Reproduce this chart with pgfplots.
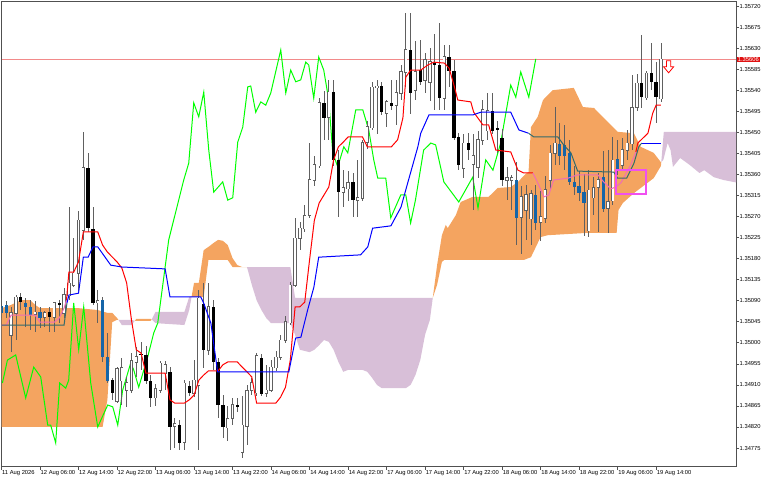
\documentclass[border=0pt]{standalone}
\usepackage{pgfplots}
\pgfplotsset{compat=1.18}
\usepackage{pgfplotstable}
\usepackage{fontspec}
\setmainfont{Liberation Sans}
\definecolor{cloudA}{HTML}{F4A460}
\definecolor{cloudB}{HTML}{D8BFD8}
\definecolor{tenkanpink}{HTML}{F06EB4}
\definecolor{kijunteal}{HTML}{336B6B}
\definecolor{bearblue}{HTML}{1565A8}
\definecolor{framec}{HTML}{505050}
\definecolor{bidline}{HTML}{F28A8A}
\definecolor{bidbox}{HTML}{E01010}
\definecolor{boxmag}{HTML}{F050F0}
\definecolor{chikou}{HTML}{00FF00}
\definecolor{wickc}{HTML}{606060}
\pgfdeclareplotmark{dnarrow}{%
 \pgfpathmoveto{\pgfpoint{-2.2bp}{6bp}}\pgfpathlineto{\pgfpoint{2.2bp}{6bp}}%
 \pgfpathlineto{\pgfpoint{2.2bp}{0bp}}\pgfpathlineto{\pgfpoint{5bp}{0bp}}%
 \pgfpathlineto{\pgfpoint{0bp}{-6bp}}\pgfpathlineto{\pgfpoint{-5bp}{0bp}}%
 \pgfpathlineto{\pgfpoint{-2.2bp}{0bp}}\pgfpathclose\pgfusepathqfillstroke}
\pgfplotsset{candle/.style={only marks, mark=*, mark size=0.1pt, mark options={draw opacity=0, fill opacity=0}, forget plot}}
\pgfplotstableread{
x o h l c t
0 1.35081 1.35096 1.35053 1.35066 2
1 1.35081 1.35089 1.35053 1.35064 2
2 1.35017 1.35077 1.34980 1.35064 0
3 1.35064 1.35102 1.35006 1.35098 0
4 1.35098 1.35106 1.35070 1.35087 1
5 1.35087 1.35096 1.35034 1.35077 2
6 1.35077 1.35091 1.35027 1.35059 2
7 1.35062 1.35091 1.35023 1.35066 0
8 1.35066 1.35077 1.35034 1.35053 2
9 1.35055 1.35070 1.35034 1.35064 0
10 1.35066 1.35077 1.35023 1.35055 1
11 1.35055 1.35087 1.35023 1.35085 0
12 1.35085 1.35091 1.35042 1.35081 1
13 1.35064 1.35119 1.35055 1.35102 0
14 1.35102 1.35290 1.35091 1.35128 0
15 1.35124 1.35224 1.35119 1.35149 0
16 1.35149 1.35284 1.35113 1.35262 0
17 1.35241 1.35451 1.35220 1.35374 0
18 1.35374 1.35406 1.35237 1.35245 1
19 1.35245 1.35290 1.35081 1.35087 1
20 1.35087 1.35113 1.35042 1.35091 0
21 1.35091 1.35098 1.34959 1.34970 2
22 1.34970 1.35021 1.34914 1.34920 2
23 1.34920 1.34925 1.34878 1.34893 1
24 1.34878 1.34948 1.34871 1.34946 0
25 1.34920 1.34967 1.34867 1.34948 0
26 1.34899 1.34927 1.34863 1.34914 0
27 1.34899 1.34978 1.34893 1.34963 0
28 1.34959 1.34991 1.34927 1.34970 0
29 1.34978 1.35002 1.34942 1.34974 1
30 1.34974 1.34995 1.34914 1.34920 1
31 1.34920 1.34931 1.34863 1.34882 1
32 1.34884 1.34914 1.34867 1.34903 0
33 1.34899 1.34963 1.34893 1.34957 0
34 1.34935 1.34963 1.34899 1.34953 0
35 1.34938 1.34948 1.34771 1.34820 1
36 1.34822 1.34841 1.34777 1.34826 0
37 1.34826 1.34835 1.34771 1.34786 1
38 1.34788 1.34920 1.34771 1.34914 0
39 1.34910 1.34920 1.34888 1.34895 1
40 1.34893 1.34963 1.34884 1.34920 0
41 1.34910 1.35113 1.34771 1.35096 0
42 1.35085 1.35128 1.34948 1.34985 1
43 1.34985 1.35128 1.34974 1.35077 0
44 1.35077 1.35091 1.34942 1.34959 1
45 1.34959 1.34967 1.34839 1.34867 1
46 1.34867 1.34888 1.34796 1.34820 1
47 1.34820 1.34867 1.34792 1.34839 0
48 1.34839 1.34882 1.34824 1.34867 0
49 1.34867 1.34882 1.34852 1.34863 1
50 1.34767 1.34888 1.34756 1.34824 0
51 1.34824 1.34910 1.34781 1.34899 0
52 1.34899 1.34925 1.34888 1.34914 0
53 1.34895 1.34980 1.34888 1.34974 0
54 1.34970 1.34978 1.34888 1.34893 1
55 1.34893 1.34953 1.34884 1.34899 0
56 1.34899 1.34963 1.34895 1.34948 0
57 1.34948 1.34985 1.34942 1.34970 0
58 1.34970 1.35017 1.34963 1.35006 0
59 1.35006 1.35059 1.35000 1.35044 0
60 1.35044 1.35130 1.35038 1.35124 0
61 1.35124 1.35267 1.35119 1.35224 0
62 1.35224 1.35258 1.35198 1.35245 0
63 1.35245 1.35295 1.35237 1.35273 0
64 1.35273 1.35427 1.35267 1.35348 0
65 1.35348 1.35401 1.35337 1.35380 0
66 1.35380 1.35523 1.35374 1.35515 0
67 1.35513 1.35540 1.35434 1.35481 1
68 1.35483 1.35562 1.35434 1.35536 0
69 1.35536 1.35562 1.35380 1.35391 1
70 1.35391 1.35412 1.35269 1.35322 1
71 1.35322 1.35369 1.35290 1.35331 0
72 1.35331 1.35369 1.35305 1.35344 0
73 1.35344 1.35363 1.35269 1.35305 1
74 1.35305 1.35391 1.35269 1.35310 0
75 1.35310 1.35434 1.35305 1.35429 0
76 1.35429 1.35476 1.35416 1.35461 0
77 1.35461 1.35558 1.35455 1.35547 0
78 1.35547 1.35562 1.35448 1.35549 0
79 1.35549 1.35558 1.35487 1.35493 1
80 1.35491 1.35519 1.35463 1.35515 0
81 1.35515 1.35562 1.35498 1.35508 1
82 1.35508 1.35562 1.35466 1.35534 0
83 1.35534 1.35594 1.35519 1.35579 0
84 1.35579 1.35707 1.35547 1.35626 0
85 1.35626 1.35705 1.35491 1.35534 1
86 1.35540 1.35647 1.35519 1.35579 0
87 1.35583 1.35647 1.35551 1.35558 1
88 1.35562 1.35620 1.35534 1.35605 0
89 1.35558 1.35632 1.35519 1.35600 0
90 1.35600 1.35662 1.35498 1.35594 1
91 1.35594 1.35684 1.35498 1.35523 1
92 1.35523 1.35637 1.35498 1.35611 0
93 1.35611 1.35637 1.35547 1.35583 1
94 1.35583 1.35605 1.35434 1.35440 1
95 1.35440 1.35448 1.35369 1.35380 1
96 1.35374 1.35448 1.35354 1.35427 0
97 1.35427 1.35448 1.35391 1.35412 1
98 1.35384 1.35448 1.35284 1.35401 0
99 1.35376 1.35455 1.35354 1.35434 0
100 1.35434 1.35519 1.35423 1.35498 0
101 1.35455 1.35534 1.35434 1.35498 0
102 1.35498 1.35534 1.35448 1.35455 1
103 1.35459 1.35476 1.35406 1.35455 1
104 1.35438 1.35459 1.35337 1.35348 1
105 1.35348 1.35376 1.35305 1.35352 0
106 1.35348 1.35359 1.35284 1.35352 0
107 1.35348 1.35386 1.35209 1.35267 2
108 1.35269 1.35337 1.35192 1.35312 0
109 1.35284 1.35337 1.35220 1.35316 0
110 1.35267 1.35327 1.35209 1.35320 0
111 1.35316 1.35337 1.35241 1.35256 2
112 1.35258 1.35327 1.35220 1.35269 0
113 1.35267 1.35359 1.35258 1.35327 0
114 1.35348 1.35423 1.35327 1.35406 0
115 1.35406 1.35504 1.35380 1.35427 0
116 1.35427 1.35470 1.35380 1.35401 2
117 1.35423 1.35466 1.35369 1.35401 2
118 1.35406 1.35434 1.35337 1.35344 2
119 1.35344 1.35380 1.35316 1.35333 2
120 1.35335 1.35369 1.35305 1.35320 2
121 1.35322 1.35363 1.35230 1.35299 2
122 1.35241 1.35369 1.35226 1.35327 0
123 1.35312 1.35354 1.35273 1.35333 0
124 1.35333 1.35365 1.35237 1.35348 0
125 1.35357 1.35412 1.35280 1.35288 2
126 1.35288 1.35412 1.35235 1.35301 0
127 1.35305 1.35440 1.35295 1.35391 0
128 1.35395 1.35434 1.35359 1.35369 2
129 1.35380 1.35440 1.35369 1.35412 0
130 1.35412 1.35455 1.35391 1.35427 0
131 1.35427 1.35572 1.35412 1.35504 0
132 1.35504 1.35577 1.35498 1.35555 0
133 1.35555 1.35658 1.35504 1.35525 1
134 1.35525 1.35583 1.35519 1.35577 0
135 1.35577 1.35641 1.35540 1.35558 1
136 1.35558 1.35600 1.35470 1.35525 1
137 1.35523 1.35641 1.35515 1.35607 0
}\candles
\begin{document}
\begin{tikzpicture}
\path[use as bounding box] (0,0) rectangle (768bp,-480bp);
\begin{axis}[
  at={(1.5bp,-1.7bp)}, anchor=north west,
  scale only axis, width=734.5bp, height=464.8bp,
  xmin=0, xmax=152.6, ymin=1.347355, ymax=1.357292,
  axis line style={framec, line width=0.8bp},
  xtick={0,8,...,136},
  xticklabels={11 Aug 2026,12 Aug 06:00,12 Aug 14:00,12 Aug 22:00,13 Aug 06:00,13 Aug 14:00,13 Aug 22:00,14 Aug 06:00,14 Aug 14:00,14 Aug 22:00,17 Aug 06:00,17 Aug 14:00,17 Aug 22:00,18 Aug 06:00,18 Aug 14:00,18 Aug 22:00,19 Aug 06:00,19 Aug 14:00},
  ytick={1.34775,1.34820,1.34865,1.34910,1.34955,1.35000,1.35045,1.35090,1.35135,1.35180,1.35225,1.35270,1.35315,1.35360,1.35405,1.35450,1.35495,1.35540,1.35585,1.35630,1.35675,1.35720},
  yticklabels={1.34775,1.34820,1.34865,1.34910,1.34955,1.35000,1.35045,1.35090,1.35135,1.35180,1.35225,1.35270,1.35315,1.35360,1.35405,1.35450,1.35495,1.35540,1.35585,1.35630,1.35675,1.35720},
  xtick pos=left, ytick pos=right,
  tick align=outside, major tick length=3bp,
  tick style={framec, line width=0.6bp},
  every tick label/.append style={font=\fontsize{5.8bp}{6.5bp}\selectfont, text=black},
  xticklabel style={anchor=north west, inner sep=0pt, xshift=0.5bp, yshift=-0.5bp},
  yticklabel style={anchor=west, inner sep=0pt, xshift=0.5bp},
  scaled y ticks=false,
]
% cloud: Senkou A (one side) and Senkou B (other side) of each region
\addplot[fill=cloudA, draw=none] coordinates {
(0,1.35074) (2,1.35081) (4,1.35091) (6,1.35091) (7,1.35081) (8,1.35074) (16,1.35074) (18,1.35072) (20,1.35070)
(22,1.35064) (23,1.35064) (24,1.35053) (24.3,1.35049)
(24,1.35049) (23,1.35044) (22,1.34878) (21,1.34820) (0,1.34820)} -- cycle;
\addplot[fill=cloudB, draw=none] coordinates {
(24.3,1.35049) (25,1.35038) (27,1.35038) (27.7,1.35047) (27,1.35049) (24.3,1.35049)} -- cycle;
\addplot[fill=cloudA, draw=none] coordinates {
(27.7,1.35047) (28,1.35051) (31,1.35051) (31.2,1.35050) (31,1.35047) (28,1.35047) (27.7,1.35047)} -- cycle;
\addplot[fill=cloudB, draw=none] coordinates {
(31.2,1.35050) (32,1.35042) (38,1.35038) (39,1.35070) (39.5,1.35099)
(39,1.35098) (38,1.35066) (32,1.35066) (31.2,1.35050)} -- cycle;
\addplot[fill=cloudA, draw=none] coordinates {
(39.5,1.35099) (40,1.35128) (41,1.35128) (42,1.35198) (43,1.35205) (44,1.35213) (45,1.35220) (46,1.35218)
(47,1.35209) (48,1.35181) (49,1.35166) (50,1.35162) (51,1.35162)
(48,1.35162) (47,1.35177) (43,1.35177) (42,1.35098) (39.5,1.35098)} -- cycle;
\addplot[fill=cloudB, draw=none] coordinates {
(51,1.35162) (60,1.35162) (61,1.35096) (89.6,1.35096)
(89,1.35049) (88,1.35017) (87,1.34963) (86,1.34931) (85,1.34910) (84,1.34903) (79,1.34903) (78,1.34910)
(77,1.34925) (76,1.34938) (75,1.34942) (72,1.34942) (71,1.34938) (70,1.34959) (69,1.34985) (68,1.35002)
(67,1.35006) (66,1.34995) (65,1.34985) (64,1.34980) (62,1.34985) (61,1.35017) (60,1.35042) (56,1.35042)
(55,1.35053) (54,1.35070) (53,1.35091) (52,1.35124) (51,1.35162)} -- cycle;
\addplot[fill=cloudA, draw=none] coordinates {
(89.6,1.35096) (90.5,1.35166) (91.5,1.35230) (92.3,1.35252) (92.7,1.35245) (94.4,1.35273) (95.4,1.35301)
(97.9,1.35312) (101.2,1.35312) (103.1,1.35331) (105.8,1.35333) (107.3,1.35344) (108.9,1.35361) (109.5,1.35365)
(110.0,1.35461) (111.4,1.35483) (112.5,1.35519) (114.5,1.35540) (118.9,1.35545) (120.8,1.35504) (123.1,1.35502)
(124.5,1.35487) (128,1.35451) (131.4,1.35448) (132.8,1.35419) (135.5,1.35406) (137,1.35386) (137.07,1.35386)
(137,1.35378) (135.5,1.35352) (131.4,1.35320) (129.1,1.35299) (128.2,1.35284) (127.8,1.35235) (121.8,1.35235)
(113.5,1.35230) (112,1.35226) (110,1.35183) (108.5,1.35177) (92,1.35177) (91.5,1.35173) (90.5,1.35124)
(89.6,1.35096)} -- cycle;
\addplot[fill=cloudB, draw=none] coordinates {
(137.07,1.35386) (137.6,1.35451) (153,1.35451)
(153,1.35342) (150,1.35348) (148,1.35354) (146,1.35369) (145,1.35363) (143,1.35380) (141,1.35395)
(139.5,1.35376) (139,1.35412) (138.4,1.35427) (137.5,1.35391) (137.07,1.35386)} -- cycle;
% bid line
\addplot[bidline, line width=1.1bp] coordinates {(0,1.35606) (152.6,1.35606)};
% chikou
\addplot[chikou, line width=1bp] coordinates {
(0.19,1.34914) (1.23,1.34963) (2.95,1.34974) (5.03,1.34882) (6.69,1.34948) (8.15,1.34927)
(9.6,1.34824) (10.22,1.34824) (11.26,1.34786) (12.09,1.34914) (13.34,1.34903) (13.96,1.34920)
(15.0,1.35085) (16.04,1.34985) (17.08,1.35077) (18.54,1.34914) (19.99,1.34820) (22.07,1.34867)
(23.11,1.34863) (24.15,1.34824) (25.18,1.34899) (26.85,1.34957) (27.47,1.34942) (28.51,1.34905)
(30.38,1.34970) (31.63,1.35021) (32.46,1.35042) (34.74,1.35220) (37.86,1.35348) (38.90,1.35384)
(39.94,1.35513) (40.98,1.35483) (42.02,1.35536) (43.06,1.35412) (44.09,1.35322) (45.96,1.35344)
(47.0,1.35305) (48.04,1.35310) (49.08,1.35429) (50.12,1.35461) (51.16,1.35547) (51.78,1.35549)
(52.82,1.35493) (53.86,1.35515) (54.90,1.35508) (55.94,1.35534) (58.02,1.35626) (59.06,1.35534)
(60.09,1.35583) (61.13,1.35558) (62.17,1.35562) (63.21,1.35600) (63.83,1.35594) (64.87,1.35523)
(65.91,1.35611) (66.95,1.35583) (67.99,1.35519) (68.82,1.35406) (69.86,1.35376) (71.11,1.35419)
(71.94,1.35406) (73.6,1.35498) (75.06,1.35498) (76.3,1.35455) (77.34,1.35391) (78.17,1.35352)
(79.83,1.35352) (80.87,1.35267) (82.95,1.35316) (84,1.35316) (85,1.35256) (86,1.35305)
(87.7,1.35412) (89.2,1.35427) (90.2,1.35423) (91.9,1.35344) (95,1.35301) (97.9,1.35354)
(99,1.35288) (100.6,1.35391) (102.1,1.35369) (103.7,1.35427) (105.8,1.35551)
(106.85,1.35525) (107.88,1.35579) (109.55,1.35525) (111.0,1.35607)};
% candles: wicks
\addplot[candle, error bars/.cd, y dir=both, y explicit, error mark=none,
  error bar style={draw=wickc, line width=0.7bp}]
  table[x=x, y expr={(\thisrow{h}+\thisrow{l})/2}, y error expr={(\thisrow{h}-\thisrow{l})/2}] {\candles};
% bull bodies (outline, then white)
\addplot[candle, error bars/.cd, y dir=both, y explicit, error mark=none,
  error bar style={draw=wickc, line width=3.3bp}]
  table[x=x, y expr={(\thisrow{o}+\thisrow{c})/2}, y error expr={(\thisrow{t}==0)*(abs(\thisrow{o}-\thisrow{c})/2+0.000016)}] {\candles};
\addplot[candle, error bars/.cd, y dir=both, y explicit, error mark=none,
  error bar style={draw=white, line width=1.9bp}]
  table[x=x, y expr={(\thisrow{o}+\thisrow{c})/2}, y error expr={(\thisrow{t}==0)*abs(\thisrow{o}-\thisrow{c})/2}] {\candles};
% bear bodies
\addplot[candle, error bars/.cd, y dir=both, y explicit, error mark=none,
  error bar style={draw=black, line width=3.3bp}]
  table[x=x, y expr={(\thisrow{o}+\thisrow{c})/2}, y error expr={(\thisrow{t}==1)*max(abs(\thisrow{o}-\thisrow{c})/2,0.000012)}] {\candles};
\addplot[candle, error bars/.cd, y dir=both, y explicit, error mark=none,
  error bar style={draw=bearblue, line width=3.3bp}]
  table[x=x, y expr={(\thisrow{o}+\thisrow{c})/2}, y error expr={(\thisrow{t}==2)*max(abs(\thisrow{o}-\thisrow{c})/2,0.000012)}] {\candles};
% tenkan
\addplot[tenkanpink, line width=1bp] coordinates {(0,1.35038) (1,1.35038) (2,1.35059) (7,1.35059) (8,1.35044) (11,1.35044) (12,1.35053) (13,1.35074) (13.5,1.35091)};
\addplot[red, line width=1bp] coordinates {
(13.5,1.35091) (14,1.35151) (15,1.35151) (16,1.35173) (17,1.35237) (20,1.35237) (21,1.35209) (22,1.35194)
(24,1.35173) (25,1.35160) (26,1.35128) (27,1.35049) (28,1.34985) (29,1.34978) (30,1.34935) (34,1.34935)
(35,1.34878) (36,1.34871) (38,1.34871) (39,1.34878) (40,1.34888) (41,1.34920) (42,1.34931) (43,1.34940)
(45,1.34940) (46,1.34953) (47,1.34959) (49,1.34959) (50,1.34948) (51,1.34938) (52,1.34927) (53,1.34871)
(57,1.34871) (58,1.34884) (59,1.34905) (60,1.34963) (61,1.35077) (62,1.35077) (63,1.35087) (64,1.35177)
(65,1.35262) (66,1.35299) (67,1.35316) (68,1.35333) (69,1.35391) (70,1.35419) (71,1.35429) (72,1.35440)
(75,1.35440) (76,1.35419) (81,1.35419) (82.3,1.35434) (83.4,1.35481) (84,1.35568) (85,1.35583) (87.1,1.35583)
(88.6,1.35594) (89.8,1.35600) (92,1.35598) (93,1.35587) (94,1.35551) (94.8,1.35519) (97.5,1.35515) (98.1,1.35493)
(100,1.35466) (101.2,1.35466) (102.7,1.35412) (105.8,1.35408) (107.3,1.35369) (108.5,1.35363) (110.4,1.35363)};
\addplot[tenkanpink, line width=1bp] coordinates {
(110.4,1.35363) (111.4,1.35342) (112.7,1.35312) (113.7,1.35316) (114.7,1.35348) (117.7,1.35352) (119.7,1.35359)
(123.9,1.35359) (125.1,1.35344) (126.6,1.35329) (127.6,1.35333) (128.7,1.35342) (130.7,1.35380) (131.8,1.35408)};
\addplot[red, line width=1bp] coordinates {(131.8,1.35408) (132.2,1.35427) (134.3,1.35448) (135.3,1.35491) (136,1.35508) (137,1.35508)};
% kijun
\addplot[kijunteal, line width=1bp] coordinates {(0,1.35038) (13,1.35038) (13.6,1.35085)};
\addplot[blue, line width=1bp] coordinates {
(13.6,1.35085) (14,1.35102) (16,1.35106) (17,1.35183) (18,1.35183) (19,1.35205) (20,1.35205) (22.7,1.35166)
(25,1.35162) (34,1.35158) (35,1.35098) (41.4,1.35098) (42,1.35085) (43.5,1.35042) (44.9,1.34938) (59.7,1.34938)
(61.1,1.35010) (62.2,1.35012) (63.6,1.35070) (64.9,1.35119) (65.9,1.35183) (74.6,1.35188) (76.1,1.35205)
(77.1,1.35245) (80.9,1.35250) (83,1.35290) (84.4,1.35342) (86.5,1.35419) (87.1,1.35448) (88.8,1.35487)
(97.9,1.35487) (99.6,1.35493) (105.8,1.35493) (107.5,1.35455) (109.5,1.35448)};
\addplot[kijunteal, line width=1bp] coordinates {
(109.5,1.35448) (110.6,1.35440) (115.6,1.35440) (116.8,1.35423) (118.3,1.35406) (119.7,1.35367) (127.2,1.35365)
(128,1.35352) (129.9,1.35352) (131.4,1.35384) (132.4,1.35419) (133,1.35427)};
\addplot[blue, line width=1bp] coordinates {(133,1.35427) (137,1.35427)};
% annotations
\addplot[boxmag, line width=2.2bp, line join=miter] coordinates {(127.6,1.35369) (133.9,1.35369) (133.9,1.35318) (127.6,1.35318) (127.6,1.35369) (133.9,1.35369)};
\addplot[only marks, mark=dnarrow, mark options={draw=red, fill=white, line width=0.8bp}] coordinates {(138.6,1.35590)};
\coordinate (bid) at (axis cs:152.6,1.35606);
\end{axis}
\node[fill=bidbox, text=white, anchor=west, inner sep=0.7bp, xshift=1bp, font=\fontsize{5.8bp}{6.5bp}\selectfont] at (bid) {1.35606};
\end{tikzpicture}
\end{document}
